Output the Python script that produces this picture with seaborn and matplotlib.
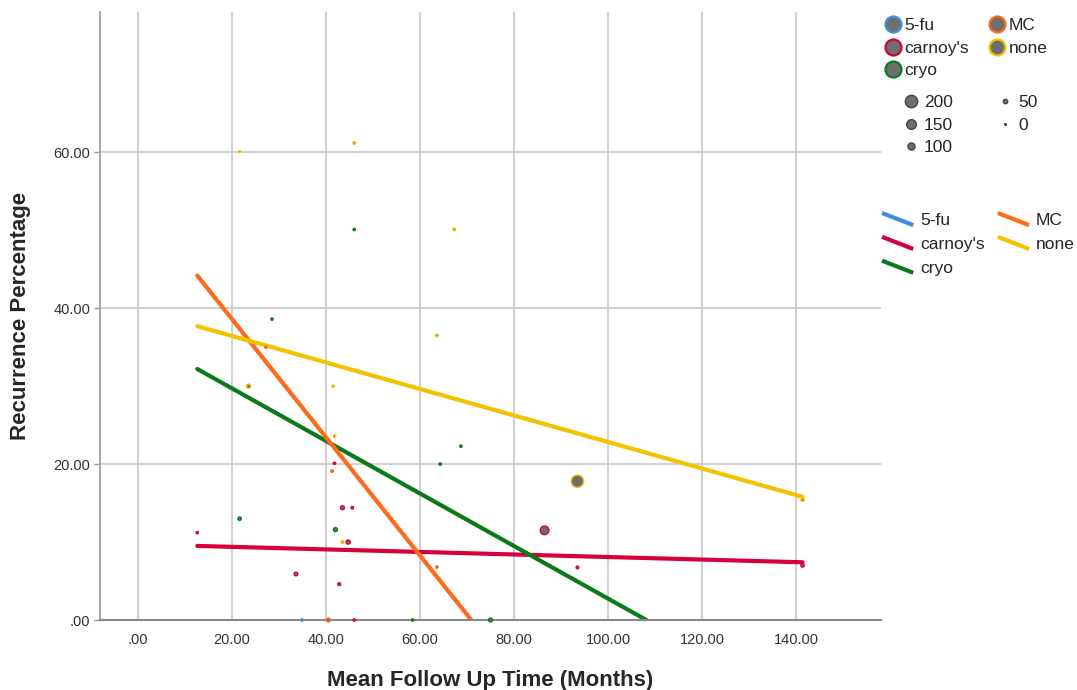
import numpy as np
import pandas as pd
import matplotlib
matplotlib.use('Agg')
import matplotlib.pyplot as plt
from matplotlib.lines import Line2D
from matplotlib.legend_handler import HandlerBase
from matplotlib.ticker import FuncFormatter
import seaborn as sns

# Datos (tiempo medio de seguimiento, % de recurrencia, tamano)
grupos = ['5-fu', 'carnoy\'s', 'cryo', 'MC', 'none']
colores = ['#3d8fe3', '#d6003c', '#0b7a1a', '#ff6a1a', '#f2c300']

fu_x = [34.9]
fu_y = [0.0]
fu_n = [10]

mc_x = [27.2, 41.3, 63.6, 40.5]
mc_y = [35.0, 19.1, 6.8, 0.0]
mc_n = [10, 15, 10, 40]

carnoy_x = [12.6, 41.8, 43.5, 45.6, 44.7, 33.6, 42.8, 46.0, 86.5, 93.5, 141.4]
carnoy_y = [11.2, 20.1, 14.4, 14.4, 10.0, 5.9, 4.6, 0.0, 11.5, 6.75, 7.0]
carnoy_n = [10, 10, 40, 15, 45, 35, 20, 10, 130, 15, 30]

none_x = [21.6, 46.0, 67.3, 23.5, 41.5, 41.8, 43.5, 63.6, 93.5, 141.4]
none_y = [60.1, 61.2, 50.1, 30.0, 30.0, 23.6, 10.0, 36.5, 17.8, 15.4]
none_n = [5, 15, 15, 45, 10, 15, 15, 15, 200, 25]

cryo_x = [28.5, 46.0, 21.6, 42.0, 68.7, 64.3, 58.4, 75.0]
cryo_y = [38.6, 50.1, 13.0, 11.6, 22.3, 20.0, 0.0, 0.0]
cryo_n = [10, 10, 30, 40, 10, 10, 10, 40]

# Rectas de ajuste por subgrupo (intercepto, pendiente)
fit_grupos = ['carnoy\'s', 'cryo', 'MC', 'none']
fit_intercepto = [9.71, 36.45, 53.75, 39.84]
fit_pendiente = [-0.0163, -0.337, -0.758, -0.170]

size_levels = [200, 150, 100, 50, 0]

series = {
    '5-fu': (fu_x, fu_y, fu_n),
    'MC': (mc_x, mc_y, mc_n),
    'carnoy\'s': (carnoy_x, carnoy_y, carnoy_n),
    'none': (none_x, none_y, none_n),
    'cryo': (cryo_x, cryo_y, cryo_n),
}
filas = []
for g, (xs, ys, ns) in series.items():
    for xv, yv, nv in zip(xs, ys, ns):
        filas.append({'Grupo': g, 'Seguimiento': xv, 'Recurrencia': yv, 'N': nv})
df = pd.DataFrame(filas)


# diametro lineal respecto a N (como SPSS)
def diametro(n):
    return 1.3 + 0.038 * np.asarray(n, dtype=float)


df['area'] = diametro(df['N']) ** 2
amin, amax = diametro(0) ** 2, diametro(200) ** 2

x_min, x_max = df['Seguimiento'].min(), df['Seguimiento'].max()
lineas = []
for g, a, b in zip(fit_grupos, fit_intercepto, fit_pendiente):
    for xv in (x_min, x_max):
        lineas.append({'Grupo': g, 'Seguimiento': xv, 'Recurrencia': a + b * xv})
df_lin = pd.DataFrame(lineas)

paleta = dict(zip(grupos, colores))
gris = '#6e6e6e'

sns.set_style('white')
plt.rcParams['font.family'] = ['Liberation Sans', 'DejaVu Sans']

fig = plt.figure(figsize=(10.77, 6.90), dpi=100)
ax = fig.add_axes([100 / 1077, 70 / 690, 781 / 1077, 608 / 690])

ax.set_xlim(-8.1, 158.1)
ax.set_ylim(0, 78)
ax.set_xticks(range(0, 141, 20))
ax.set_yticks([0, 20, 40, 60])
ax.grid(True, color='#c8c8c8', lw=1.2)
ax.set_axisbelow(True)

sns.lineplot(data=df_lin, x='Seguimiento', y='Recurrencia', hue='Grupo',
             palette=paleta, units='Grupo', estimator=None, lw=3,
             legend=False, ax=ax, zorder=2)

sns.scatterplot(data=df, x='Seguimiento', y='Recurrencia', hue='Grupo',
                size='area', sizes=(amin, amax), size_norm=(amin, amax),
                palette=paleta, legend=False, ax=ax, linewidth=1.0,
                clip_on=False, zorder=3)
puntos = ax.collections[-1]
puntos.set_edgecolors(puntos.get_facecolors())
puntos.set_facecolor(gris)

fmt = FuncFormatter(lambda v, p: ('%.2f' % v).lstrip('0') if v == 0 else '%.2f' % v)
ax.xaxis.set_major_formatter(fmt)
ax.yaxis.set_major_formatter(fmt)
ax.tick_params(axis='x', length=0, pad=9, labelsize=10.5, labelcolor='#333333')
ax.tick_params(axis='y', length=4, width=1, color='#999999', pad=3,
               labelsize=10.5, labelcolor='#333333', left=True)

for lado in ['top', 'right']:
    ax.spines[lado].set_visible(False)
ax.spines['left'].set_color('#999999')
ax.spines['left'].set_linewidth(1.2)
ax.spines['bottom'].set_color('#888888')
ax.spines['bottom'].set_linewidth(1.5)

ax.set_xlabel('Mean Follow Up Time (Months)', fontsize=16, fontweight='bold', labelpad=17)
ax.set_ylabel('Recurrence Percentage', fontsize=16, fontweight='bold', labelpad=16)

# Leyendas
orden = ['5-fu', 'carnoy\'s', 'cryo', 'MC', 'none']
h_col = [Line2D([], [], marker='o', ls='', markersize=11.5, markerfacecolor=gris,
                markeredgecolor=paleta[g], markeredgewidth=1.6) for g in orden]
leg1 = fig.legend(h_col, orden, ncol=2, loc='upper left', bbox_to_anchor=(884 / 1077, 1 - 18 / 690),
                  frameon=False, fontsize=12.5, handlelength=1.0, handletextpad=0.15,
                  columnspacing=1.15, labelspacing=0.42, borderpad=0, borderaxespad=0)

h_size = [Line2D([], [], marker='o', ls='', markersize=float(diametro(n)),
                 markerfacecolor=gris, markeredgecolor='#444444', markeredgewidth=1.0)
          for n in size_levels]
leg2 = fig.legend(h_size, [str(n) for n in size_levels], ncol=2, loc='upper left',
                  bbox_to_anchor=(902 / 1077, 1 - 95 / 690), frameon=False, fontsize=12.5,
                  handlelength=1.0, handletextpad=0.25, columnspacing=2.5,
                  labelspacing=0.42, borderpad=0, borderaxespad=0)


class LineaDiagonal(HandlerBase):
    def create_artists(self, legend, orig_handle, xdescent, ydescent, width, height,
                       fontsize, trans):
        ln = Line2D([-xdescent, -xdescent + width], [-ydescent + height, -ydescent],
                    color=orig_handle.get_color(), lw=orig_handle.get_linewidth(),
                    transform=trans, solid_capstyle='butt')
        return [ln]


h_lin = [Line2D([], [], color=paleta[g], lw=3) for g in orden]
leg3 = fig.legend(h_lin, orden, ncol=2, loc='upper left', bbox_to_anchor=(882 / 1077, 1 - 213 / 690),
                  frameon=False, fontsize=12.5, handlelength=1.8, handletextpad=0.4,
                  columnspacing=0.75, labelspacing=0.5, borderpad=0, borderaxespad=0,
                  handler_map={Line2D: LineaDiagonal()})

fig.savefig('out.png', dpi=100)
